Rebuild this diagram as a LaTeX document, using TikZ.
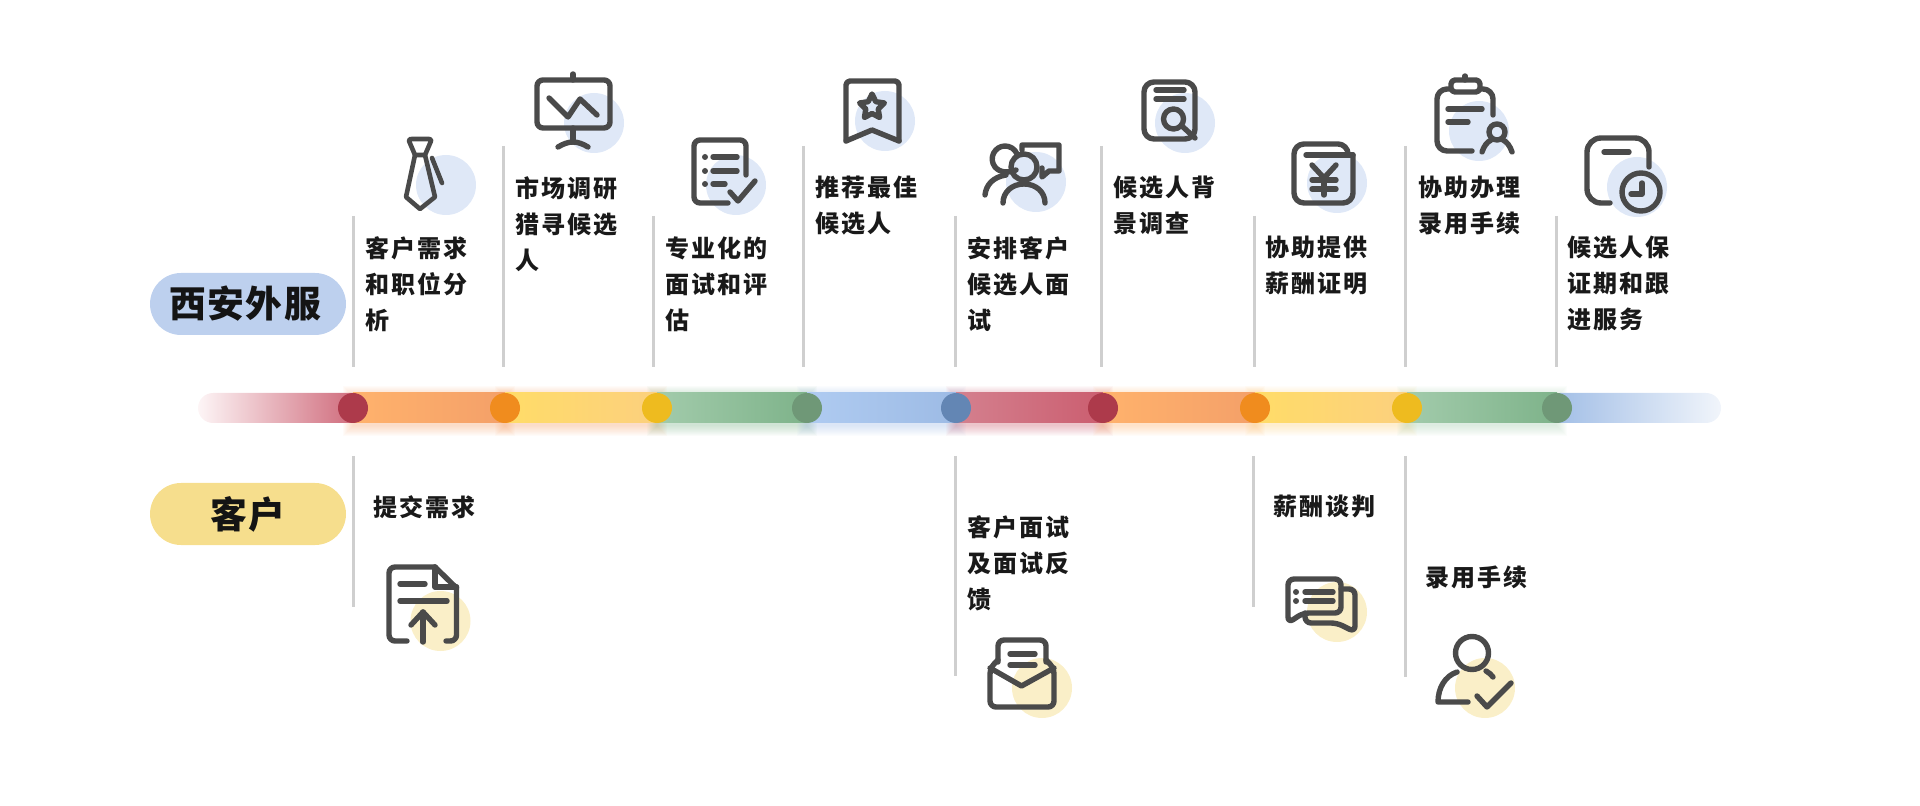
\documentclass[tikz,border=0pt]{standalone}
\usepackage{fontspec}
\newfontfamily\cjkfont[LetterSpace=8]{Noto Sans CJK SC}
\newfontfamily\cjkpill[LetterSpace=4]{Noto Sans CJK SC}
\definecolor{icongray}{HTML}{4A4A4A}
\definecolor{blobblue}{HTML}{DFE8F7}
\definecolor{blobyellow}{HTML}{FAEFC8}
\definecolor{pillblue}{HTML}{BDD0EE}
\definecolor{pillyellow}{HTML}{F6DE8D}
\definecolor{sepgray}{HTML}{CFCFCF}
\definecolor{redlight}{HTML}{D4808E}
\definecolor{reddeep}{HTML}{CB5E70}
\definecolor{reddot}{HTML}{AD3A4B}
\definecolor{orangelight}{HTML}{FFB26C}
\definecolor{orangedeep}{HTML}{F4A069}
\definecolor{orangedot}{HTML}{F08C1E}
\definecolor{yellowlight}{HTML}{FFDC68}
\definecolor{yellowdeep}{HTML}{FCD07E}
\definecolor{yellowdot}{HTML}{EEBB1F}
\definecolor{greenlight}{HTML}{A2CBAB}
\definecolor{greendeep}{HTML}{7EB38A}
\definecolor{greendot}{HTML}{6F9877}
\definecolor{bluelight}{HTML}{AFCBF1}
\definecolor{bluedeep}{HTML}{9DBBE5}
\definecolor{bluedot}{HTML}{6386B4}
\definecolor{bluefade}{HTML}{F1F5FB}
\definecolor{redfade}{HTML}{FDF5F6}
\tikzset{
	icon/.style={draw=icongray,line width=2.7pt,line cap=round,line join=round},
	blobb/.style={fill=blobblue},
	bloby/.style={fill=blobyellow},
	sepline/.style={draw=sepgray,line width=1.5pt},
	steplabel/.style={anchor=north west,inner sep=0pt,align=left,text=black!90,font=\cjkfont\bfseries\fontsize{12pt}{18pt}\selectfont},
	pillbox/.style={rounded corners=15.5pt,minimum width=98pt,minimum height=31pt,inner sep=0pt,text=black!92,font=\cjkpill\bfseries\fontsize{18.4pt}{20pt}\selectfont},
}
\def\barglow(#1:#2:#3){\foreach \g in {0,1,...,10}{\fill[#3,opacity=0.04] (#1-\g,393-\g+3) rectangle (#2+\g,423+\g+3);}}
\def\barseg(#1:#2:#3:#4){\shade[left color=#3,right color=#4] (#1,393) rectangle (#2,423);}
\begin{document}
\begin{tikzpicture}[x=0.5pt,y=-0.5pt]
		%%%%% START %%%%%
		\useasboundingbox (0,0) rectangle (1920,806);
		
		\barglow(353:505:orangedeep);
		\barglow(505:657:orangedeep);
		\barglow(657:807:greendeep);
		\barglow(807:956:bluedeep);
		\barglow(956:1103:reddeep);
		\barglow(1103:1255:orangelight);
		\barglow(1255:1407:yellowdeep);
		\barglow(1407:1557:greenlight);
		
		\shade[left color=redfade,right color=reddeep,rounded corners=7.5pt] (198,393) rectangle (370,423);
		\barseg(353:505:orangelight:orangedeep);
		\barseg(505:657:yellowlight:yellowdeep);
		\barseg(657:807:greenlight:greendeep);
		\barseg(807:956:bluelight:bluedeep);
		\barseg(956:1103:redlight:reddeep);
		\barseg(1103:1255:orangelight:orangedeep);
		\barseg(1255:1407:yellowlight:yellowdeep);
		\barseg(1407:1557:greenlight:greendeep);
		\shade[left color=bluedeep,right color=bluefade,rounded corners=7.5pt] (1545,393) rectangle (1721,423);
		
		\fill[reddot] (353,408) circle (15);
		\fill[orangedot] (505,408) circle (15);
		\fill[yellowdot] (657,408) circle (15);
		\fill[greendot] (807,408) circle (15);
		\fill[bluedot] (956,408) circle (15);
		\fill[reddot] (1103,408) circle (15);
		\fill[orangedot] (1255,408) circle (15);
		\fill[yellowdot] (1407,408) circle (15);
		\fill[greendot] (1557,408) circle (15);
		
		\draw[sepline] (353,216) -- (353,367);
		\draw[sepline] (503,146) -- (503,367);
		\draw[sepline] (653,216) -- (653,367);
		\draw[sepline] (803,146) -- (803,367);
		\draw[sepline] (955,216) -- (955,367);
		\draw[sepline] (1101,146) -- (1101,367);
		\draw[sepline] (1254,216) -- (1254,367);
		\draw[sepline] (1405,146) -- (1405,367);
		\draw[sepline] (1556,216) -- (1556,367);
		\draw[sepline] (353,456) -- (353,607);
		\draw[sepline] (955,456) -- (955,676);
		\draw[sepline] (1253,456) -- (1253,607);
		\draw[sepline] (1405,456) -- (1405,677);
		
		\node[pillbox,fill=pillblue] (pillvendor) at (248,304) {\hspace{-3pt}西安外服};
		\node[pillbox,fill=pillyellow] (pillclient) at (248,514) {客户};
		
		\node[steplabel] (needs) at (365,236) {客户需求\\和职位分\\析};
		\node[steplabel] (market) at (515,176) {市场调研\\猎寻候选\\人};
		\node[steplabel] (assess) at (665,236) {专业化的\\面试和评\\估};
		\node[steplabel] (recommend) at (815,176) {推荐最佳\\候选人};
		\node[steplabel] (arrange) at (967,236) {安排客户\\候选人面\\试};
		\node[steplabel] (background) at (1113,176) {候选人背\\景调查};
		\node[steplabel] (salaryproof) at (1265,236) {协助提供\\薪酬证明};
		\node[steplabel] (onboard) at (1418,176) {协助办理\\录用手续};
		\node[steplabel] (warranty) at (1567,236) {候选人保\\证期和跟\\进服务};
		\node[steplabel] (submit) at (373,495) {提交需求};
		\node[steplabel] (feedback) at (967,515) {客户面试\\及面试反\\馈};
		\node[steplabel] (negotiate) at (1273,495) {薪酬谈判};
		\node[steplabel] (hiring) at (1425,565) {录用手续};
		
		\fill[blobb] (446,185) circle (30);
		\draw[icon,line width=2.3pt] (409,141) .. controls (409,139) and (410,139) .. (412,139) -- (429,139) .. controls (431,139) and (431,140) .. (431,141) -- (425,155) -- (415,155) -- cycle;
		\draw[icon,line width=2.3pt] (415,155) -- (406,197) -- (420,209) -- (435,197) -- (425,155);
		\draw[icon,line width=2.3pt] (432,158) -- (442,183);
		
		\fill[blobb] (594,123) circle (30);
		\draw[icon,rounded corners=3pt] (537,80) rectangle (610,128);
		\draw[icon] (573,74) -- (573,80);
		\draw[icon] (549,98) -- (568,117) -- (580,99) -- (597,115);
		\draw[icon] (573,128) -- (573,142);
		\draw[icon] (558,147) .. controls (563,144) and (568,142) .. (573,142) .. controls (578,142) and (583,144) .. (588,147);
		
		\fill[blobb] (736,185) circle (30);
		\draw[icon,rounded corners=3pt] (746,175) -- (746,140) -- (694,140) -- (694,203) -- (728,203);
		\fill[icongray] (705,157) circle (3);
		\fill[icongray] (705,171) circle (3);
		\fill[icongray] (705,184) circle (3);
		\draw[icon] (713,157) -- (737,157);
		\draw[icon] (713,171) -- (737,171);
		\draw[icon] (713,184) -- (725,184);
		\draw[icon] (730,192) -- (738,201) -- (755,181);
		
		\fill[blobb] (885,121) circle (30);
		\draw[icon,rounded corners=2pt] (846,141) -- (846,81) -- (899,81) -- (899,141);
		\draw[icon] (846,141) -- (872,130) -- (899,141);
		\draw[icon] (872,94) -- (875.8,101.7) -- (884.4,103) -- (878.2,109) -- (879.6,117.5) -- (872,113.5) -- (864.4,117.5) -- (865.8,109) -- (859.6,103) -- (868.2,101.7) -- cycle;
		
		\fill[blobb] (1036,182) circle (30);
		\draw[icon] (1022,150) -- (1022,145) -- (1059,145) -- (1059,171) -- (1049,171) -- (1042,177) -- (1042,168);
		\draw[icon] (1016,170) .. controls (1009,173) and (1000,173) .. (995,167) .. controls (988,158) and (995,146) .. (1005,146) .. controls (1010,146) and (1015,149) .. (1017,154);
		\draw[icon] (1024,167) circle (13);
		\draw[icon] (1003,203) .. controls (1003,192) and (1012,184) .. (1024,184) .. controls (1036,184) and (1045,192) .. (1045,203);
		\draw[icon] (985,195) .. controls (986,185) and (993,177) .. (1006,175);
		
		\fill[blobb] (1185,123) circle (30);
		\draw[icon,rounded corners=5pt] (1144,82) rectangle (1195,139);
		\draw[icon] (1156,90) -- (1184,90);
		\draw[icon] (1156,99) -- (1184,99);
		\draw[icon] (1173.5,119) circle (10);
		\draw[icon] (1183,127) -- (1195,138);
		
		\fill[blobb] (1337,183) circle (30);
		\draw[icon,rounded corners=5pt] (1353,155) -- (1353,203) -- (1294,203) -- (1294,144) -- (1348,144) -- (1348,155);
		\draw[icon] (1306,155) -- (1353,155);
		\draw[icon] (1312,165) -- (1324,178) -- (1336,165);
		\draw[icon] (1324,178) -- (1324,195);
		\draw[icon] (1312,180) -- (1336,180);
		\draw[icon] (1312,189) -- (1336,189);
		
		\fill[blobb] (1479,131) circle (30);
		\draw[icon,rounded corners=5pt] (1493,115) -- (1493,89) -- (1437,89) -- (1437,151) -- (1472,151);
		\draw[icon,fill=white,rounded corners=2pt] (1451,92) -- (1451,80) -- (1480,80) -- (1480,92) -- cycle;
		\draw[icon] (1465,76) -- (1465,80);
		\draw[icon] (1448,109) -- (1482,109);
		\draw[icon] (1448,122) -- (1468,122);
		\draw[icon] (1497,132) circle (8);
		\draw[icon] (1482,152) .. controls (1484,146) and (1487,142) .. (1491,140);
		\draw[icon] (1503,140) .. controls (1507,142) and (1510,146) .. (1512,152);
		
		\fill[blobb] (1637,187) circle (30);
		\draw[icon,rounded corners=7pt] (1649,167) -- (1649,138) -- (1587,138) -- (1587,203) -- (1610,203);
		\draw[icon] (1604,152) -- (1629,152);
		\draw[icon] (1641,192) circle (19);
		\draw[icon] (1642,183) -- (1642,194) -- (1631,194);
		
		\fill[bloby] (440.5,621) circle (30);
		\draw[icon,rounded corners=3pt] (407,641) -- (389,641) -- (389,567) -- (435,567);
		\draw[icon] (435,567) -- (456.5,588);
		\draw[icon] (435,567) -- (435,587) -- (456.5,587);
		\draw[icon,rounded corners=3pt] (456.5,587) -- (456.5,641) -- (446,641);
		\draw[icon] (400,584) -- (425,584);
		\draw[icon] (400,601) -- (447,601);
		\draw[icon] (423,612) -- (423,642);
		\draw[icon] (411,625) -- (423,612) -- (435,625);
		
		\fill[bloby] (1042,688) circle (30);
		\draw[icon,rounded corners=3pt] (998,662) -- (998,640) -- (1046,640) -- (1046,662);
		\draw[icon] (1010,654) -- (1035,654);
		\draw[icon] (1010,665) -- (1035,665);
		\draw[icon,rounded corners=3pt] (998,660) -- (990,668) -- (990,707) -- (1054,707) -- (1054,668) -- (1046,660);
		\draw[icon] (990,668) -- (1021.5,686) -- (1054,668);
		
		\fill[bloby] (1337,612) circle (30);
		\draw[icon,rounded corners=3pt] (1288,623) -- (1288,579) -- (1341,579) -- (1341,613) -- (1303,613) -- cycle;
		\fill[icongray] (1296,592) circle (3);
		\fill[icongray] (1296,601) circle (3);
		\draw[icon] (1305,592) -- (1333,592);
		\draw[icon] (1305,601) -- (1333,601);
		\draw[icon,rounded corners=3pt] (1341,589) -- (1355,589) -- (1355,632) -- (1337,623) -- (1305,623) -- (1305,613);
		
		\fill[bloby] (1485,688) circle (30);
		\draw[icon] (1472,653) circle (16.5);
		\draw[icon] (1468,702) -- (1438,702) .. controls (1438,688) and (1445,676) .. (1457,672);
		\draw[icon] (1486,671) .. controls (1489,672) and (1491,675) .. (1493,677);
		\draw[icon] (1477,696) -- (1487,707) -- (1511,683);
		
		%%%%% END %%%%%
	\end{tikzpicture}
\end{document}
